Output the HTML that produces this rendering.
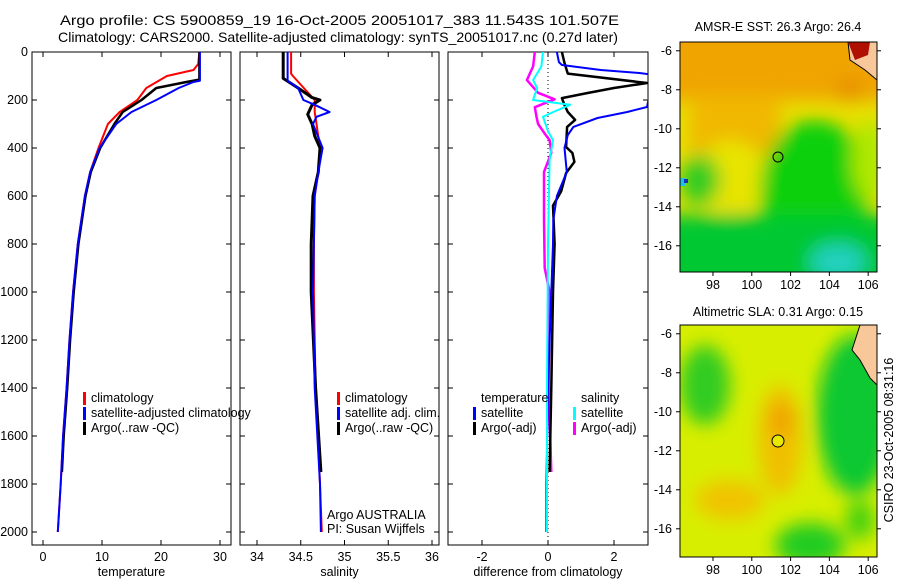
<!DOCTYPE html>
<html><head><meta charset="utf-8"><style>
body{margin:0;background:#fff;}
svg{display:block;font-family:"Liberation Sans",sans-serif;}
text{font-size:12.5px;fill:#000;}
text.title{font-size:14px;}
</style></head><body>
<svg id="fig" width="900" height="580" viewBox="0 0 900 580">
<defs>
<filter id="blur1" x="-50%" y="-50%" width="200%" height="200%"><feGaussianBlur stdDeviation="9"/></filter>
<clipPath id="cp1"><rect x="32" y="52" width="199" height="493"/></clipPath>
<clipPath id="cp2"><rect x="240" y="52" width="199" height="493"/></clipPath>
<clipPath id="cp3"><rect x="448" y="52" width="200" height="493"/></clipPath>
<clipPath id="cm1"><rect x="680" y="42" width="197" height="230"/></clipPath>
<clipPath id="cm2"><rect x="680" y="325" width="197" height="232"/></clipPath>
</defs>
<text class="title" x="60" y="25" textLength="559" lengthAdjust="spacingAndGlyphs">Argo profile: CS 5900859_19 16-Oct-2005 20051017_383 11.543S 101.507E</text>
<text class="title" x="58" y="42" textLength="560" lengthAdjust="spacingAndGlyphs">Climatology: CARS2000. Satellite-adjusted climatology: synTS_20051017.nc (0.27d later)</text>

<!-- Map 1 -->
<g>
<text x="778" y="31" text-anchor="middle">AMSR-E SST: 26.3 Argo: 26.4</text>
<g clip-path="url(#cm1)">
<rect x="680" y="42" width="197" height="230" fill="#e8e000"/>
<g filter="url(#blur1)">
<rect x="660" y="20" width="240" height="80" fill="#f0a400"/>
<rect x="690" y="95" width="90" height="60" fill="#f0b800"/>
<ellipse cx="730" cy="175" rx="35" ry="35" fill="#e8e400"/>
<ellipse cx="815" cy="190" rx="55" ry="70" fill="#10d010"/>
<rect x="660" y="215" width="240" height="80" fill="#00c830"/>
<ellipse cx="700" cy="180" rx="20" ry="25" fill="#30cc20"/>
<ellipse cx="870" cy="160" rx="18" ry="40" fill="#b0e800"/>
<ellipse cx="838" cy="262" rx="28" ry="18" fill="#20d0c0"/>
<ellipse cx="850" cy="90" rx="15" ry="12" fill="#e89000"/>
</g>
<rect x="680" y="178" width="5" height="8" fill="#20c0e0"/>
<rect x="684" y="179" width="4" height="4" fill="#1030c0"/>
<path d="M848 42 L877 42 L877 80 L865 70 L850 60 Z" fill="#f9c89a" stroke="#000" stroke-width="1"/>
<path d="M848 42 L870 42 L868 55 L855 60 Z" fill="#b01000"/>
</g>
<rect x="680" y="42" width="197" height="230" fill="none" stroke="#000"/>
<circle cx="778" cy="157" r="5" fill="none" stroke="#000"/>
</g>

<!-- Map 2 -->
<g>
<text x="778" y="316" text-anchor="middle">Altimetric SLA: 0.31 Argo: 0.15</text>
<g clip-path="url(#cm2)">
<rect x="680" y="325" width="197" height="232" fill="#d8ee00"/>
<g filter="url(#blur1)">
<ellipse cx="705" cy="385" rx="25" ry="40" fill="#30cc20"/>
<ellipse cx="855" cy="415" rx="38" ry="80" fill="#10c830"/>
<ellipse cx="780" cy="440" rx="22" ry="55" fill="#f0c000"/>
<ellipse cx="782" cy="420" rx="12" ry="16" fill="#f0a000"/>
<ellipse cx="730" cy="500" rx="35" ry="20" fill="#f0c400"/>
<ellipse cx="810" cy="545" rx="35" ry="22" fill="#20cc20"/>
<ellipse cx="860" cy="520" rx="14" ry="20" fill="#40d010"/>
</g>
<path d="M860 325 L877 325 L877 385 L870 378 L860 360 L852 350 Z" fill="#f9c89a" stroke="#000" stroke-width="1"/>
</g>
<rect x="680" y="325" width="197" height="232" fill="none" stroke="#000"/>
<circle cx="778" cy="441" r="6" fill="#e8e800" stroke="#000"/>
</g>
<text transform="translate(893,440) rotate(-90)" text-anchor="middle">CSIRO 23-Oct-2005 08:31:16</text>

<g id="plots"></g>
</svg>
<script>
// depth axes
const depthTicks = [0,200,400,600,800,1000,1200,1400,1600,1800,2000];
// temperature panel
const tDepthClim = [0,50,75,100,150,200,250,300,400,500,600,800,1000,1200,1400,1600,1800,2000];
const tClim =      [26.5,26.3,25.5,21,17.5,16,13,11,9.4,8,7.1,5.9,5.1,4.5,4,3.4,3,2.5];
const tDepthSat = [0,120,125,150,200,250,300,400,500,600,800,1000,1200,1400,1600,1800,2000];
const tSat =      [26.6,26.6,25.5,23,19.2,15,12.4,9.6,8,7.1,5.9,5.1,4.5,4,3.4,3,2.5];
const tDepthArgo = [0,115,125,150,200,250,300,400,500,600,800,1000,1200,1400,1600,1750];
const tArgo =      [26.5,26.5,24.3,19.2,16.7,13.5,12.1,9.7,8.1,7.2,6,5.2,4.6,4.1,3.5,3.2];
const tTicks = [0,10,20,30];
// salinity panel
const sDepthClim = [0,90,100,200,250,300,400,500,600,800,1000,1400,1800,2000];
const sClim =      [34.39,34.39,34.41,34.66,34.66,34.68,34.72,34.70,34.66,34.65,34.65,34.67,34.72,34.74];
const sDepthSat = [0,120,150,200,220,250,270,300,400,500,600,1000,1400,1800,2000];
const sSat =      [34.35,34.35,34.47,34.53,34.66,34.83,34.68,34.64,34.75,34.70,34.66,34.64,34.66,34.72,34.73];
const sDepthArgo = [0,110,150,190,200,220,260,300,350,400,500,600,800,1000,1400,1750];
const sArgo =      [34.30,34.30,34.47,34.63,34.72,34.63,34.58,34.63,34.66,34.72,34.70,34.64,34.62,34.62,34.67,34.73];
const sTicks = [34,34.5,35,35.5,36];
// difference panel
const dDepthTSat = [0,42,54,75,88,95,229,250,275,312,346,400,500,600,700,800,1000,1400,1800,2000];
const dTSat =      [0.27,0.33,0.42,1.6,2.8,3.2,3.0,2.4,1.5,0.77,0.6,0.5,0.57,0.27,0.16,0.15,0.1,0.0,-0.05,-0.05];
const dDepthTArgo = [0,46,90,129,150,171,192,221,250,283,312,396,421,458,504,580,640,800,1000,1400,1750];
const dTArgo =      [0.42,0.5,0.6,3.0,2.0,1.2,0.42,0.5,0.6,0.82,0.58,0.55,0.74,0.8,0.55,0.4,0.15,0.2,0.15,0.1,0.05];
const dDepthSSat = [0,60,117,150,200,220,250,270,330,367,450,800,1400,2000];
const dSSat =      [-0.15,-0.2,-0.45,-0.33,-0.45,0.67,0.16,-0.15,0.0,0.15,0.05,0.0,-0.03,-0.03];
const dDepthSArgo = [0,60,117,170,197,230,270,300,340,367,420,500,700,900,1000,1400,1750];
const dSArgo =      [-0.4,-0.45,-0.64,-0.3,0.2,-0.4,-0.35,-0.3,-0.1,0.05,0.1,-0.12,-0.12,-0.1,0.05,0.02,0.1];
const dTicks = [-2,0,2];

const NS='http://www.w3.org/2000/svg';
const g=document.getElementById('plots');
const yD=d=>52+d*0.24;
function mk(tag,attrs,parent){const e=document.createElementNS(NS,tag);for(const k in attrs)e.setAttribute(k,attrs[k]);(parent||g).appendChild(e);return e;}
function panel(x0,w,xs,ticks,fmt,label,clip,name,rightTicks,showDepth){
  const pg=mk('g',{});
  
  
  const fr=mk('rect',{x:x0,y:52,width:w,height:493,fill:'none',stroke:'#000'},pg);
  
  
  ticks.forEach(t=>{const x=xs(t);
    mk('line',{x1:x,x2:x,y1:545,y2:540,stroke:'#000'},pg);mk('line',{x1:x,x2:x,y1:52,y2:57,stroke:'#000'},pg);
    const tx=mk('text',{x:x,y:561,'text-anchor':'middle'},pg);tx.textContent=fmt(t);
    
    
  });
  depthTicks.forEach(d=>{const y=yD(d);
    mk('line',{x1:x0,x2:x0+5,y1:y,y2:y,stroke:'#000'},pg);mk('line',{x1:x0+w,x2:x0+w-5,y1:y,y2:y,stroke:'#000'},pg);
    if(showDepth){const tx=mk('text',{x:x0-4,y:y+4,'text-anchor':'end'},pg);tx.textContent=d;
      
      }
  });
  const lb=mk('text',{x:x0+w/2,y:576,'text-anchor':'middle'},pg);lb.textContent=label;
  
  
  return mk('g',{'clip-path':'url(#'+clip+')'},pg);
}
function line(parent,xs,depths,vals,color,w,name,dash){
  const pts=depths.map((d,i)=>xs(vals[i]).toFixed(1)+','+yD(d).toFixed(1)).join(' ');
  const p=mk('polyline',{points:pts,fill:'none',stroke:color,'stroke-width':w,'stroke-linejoin':'round'},parent);
  if(dash)p.setAttribute('stroke-dasharray',dash);
  
  
}
function legend(x,y,items){
  items.forEach((it,i)=>{
    if(it[1]) mk('rect',{x:x,y:y+i*15-10,width:3,height:13,fill:it[1]});
    const t=mk('text',{x:x+8,y:y+i*15});t.textContent=it[0];
    
    
  });
}
// panel 1
const xT=v=>43+v*5.9;
const c1=panel(32,199,xT,tTicks,String,'temperature','cp1','temperature-panel',false,true);
line(c1,xT,tDepthClim,tClim,'#ff0000',2,'temp-climatology-line');
line(c1,xT,tDepthArgo,tArgo,'#000',2.5,'temp-argo-line');
line(c1,xT,tDepthSat,tSat,'#0000ff',2,'temp-satellite-line');
legend(83,402,[['climatology','#ff0000'],['satellite-adjusted climatology','#0000ff'],['Argo(..raw -QC)','#000']]);
// panel 2
const xS=v=>257+(v-34)*87.5;
const c2=panel(240,199,xS,sTicks,String,'salinity','cp2','salinity-panel',false,false);
line(c2,xS,sDepthClim,sClim,'#ff0000',2,'sal-climatology-line');
line(c2,xS,sDepthArgo,sArgo,'#000',3,'sal-argo-line');
line(c2,xS,sDepthSat,sSat,'#0000ff',2,'sal-satellite-line');
legend(337,402,[['climatology','#ff0000'],['satellite adj. clim.','#0000ff'],['Argo(..raw -QC)','#000']]);
const a1=mk('text',{x:327,y:519});a1.textContent='Argo AUSTRALIA';


const a2=mk('text',{x:327,y:533});a2.textContent='PI: Susan Wijffels';


// panel 3
const xDf=v=>548+v*33;
const c3=panel(448,200,xDf,dTicks,v=>v===0?'0':String(v),'difference from climatology','cp3','difference-panel',false,false);
mk('line',{x1:xDf(0),x2:xDf(0),y1:52,y2:545,stroke:'#000','stroke-dasharray':'1,3'},c3);
line(c3,xDf,dDepthSArgo,dSArgo,'#ff00ff',2.5,'diff-sal-argo-line');
line(c3,xDf,dDepthTArgo,dTArgo,'#000',2.5,'diff-temp-argo-line');
line(c3,xDf,dDepthTSat,dTSat,'#0000ff',2,'diff-temp-satellite-line');
line(c3,xDf,dDepthSSat,dSSat,'#00ffff',2,'diff-sal-satellite-line');
legend(473,402,[['temperature',null],['satellite','#0000ff'],['Argo(-adj)','#000']]);
legend(573,402,[['salinity',null],['satellite','#00ffff'],['Argo(-adj)','#ff00ff']]);
// map ticks
function mapTicks(y0,h){
  const lats=[-6,-8,-10,-12,-14,-16];
  lats.forEach(l=>{const y=y0+(-5.55-l)*19.5;
    mk('line',{x1:680,x2:676,y1:y,y2:y,stroke:'#000'});mk('line',{x1:877,x2:881,y1:y,y2:y,stroke:'#000'});
    const t=mk('text',{x:672,y:y+4,'text-anchor':'end'});t.textContent=l;
    
    });
  [98,100,102,104,106].forEach(lo=>{const x=680+(lo-96.3)*19.4;
    mk('line',{x1:x,x2:x,y1:y0+h,y2:y0+h+4,stroke:'#000'});
    const t=mk('text',{x:x,y:y0+h+17,'text-anchor':'middle'});t.textContent=lo;
    
    });
}
mapTicks(42,230);mapTicks(325,232);
</script>
</body></html>
